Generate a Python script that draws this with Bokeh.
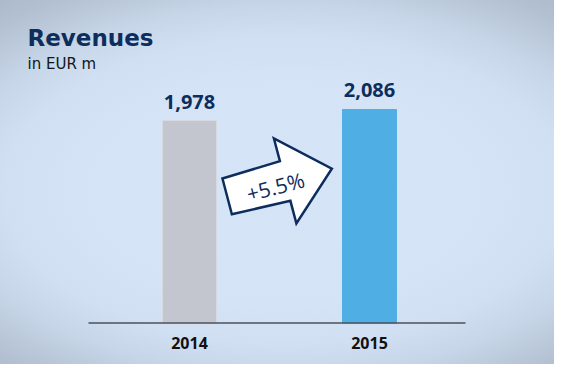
import math
from bokeh.plotting import figure
from bokeh.models import LinearAxis, FixedTicker, ColumnDataSource
from bokeh.core.properties import value
from bokeh.embed import file_html
from bokeh.resources import INLINE

# ---------------- data ----------------
years = ["2014", "2015"]
revenues = [1978, 2086]
value_labels = ["1,978", "2,086"]
bar_colors = ["#c3c6cf", "#4faee3"]
bar_edge_colors = ["#d6d9e0", "#4faee3"]
title_text = "Revenues"
subtitle_text = "in EUR m"
growth_label = "+{:.1f}%".format((revenues[1] / revenues[0] - 1) * 100)

# ---------------- layout (pixels) ----------------
W, H = 554, 364
X0_PX = 189.0      # pixel column of first category
X_PPU = 180.0      # pixels per category step
Y0_PX = 322.5      # pixel row of value 0 (from top)
Y_UPP = 9.77       # value units per pixel

NAVY = "#0d2d5d"


def dx(px):
    return (px - X0_PX) / X_PPU


def dy(py):
    return (Y0_PX - py) * Y_UPP


bg = ("radial-gradient(ellipse 470px 258px at 285px 190px, "
      "#d5e5f7 0%, #d4e4f6 45%, #d0e0f2 60%, #c6d5e7 72%, "
      "#b2c0d1 88%, #a8b6c7 100%)")

p = figure(width=W, height=H, output_backend="svg", toolbar_location=None,
           x_range=(dx(0), dx(W)), y_range=(dy(H), dy(0)),
           x_axis_location=None, y_axis_location=None,
           min_border=0, tools="", styles={"background": bg})
p.background_fill_color = None
p.border_fill_color = None
p.outline_line_color = None
p.grid.visible = False

x_pos = list(range(len(years)))
src = ColumnDataSource(dict(x=x_pos, top=revenues, color=bar_colors,
                            edge=bar_edge_colors, label=value_labels))

# bars
p.vbar(x="x", top="top", bottom=0, width=0.3, fill_color="color",
       line_color="edge", line_width=1, source=src)

# value labels
p.text(x="x", y="top", text="label", source=src, text_align="center",
       text_baseline="middle", y_offset=-19,
       text_font=value("Open Sans"), text_font_style="bold",
       text_font_size="20px", text_color=NAVY)

# baseline
p.segment(x0=[dx(88)], y0=[0], x1=[dx(465)], y1=[0],
          line_color="#4b505a", line_width=1.3)

# category axis
ax = LinearAxis(fixed_location=0, ticker=FixedTicker(ticks=x_pos),
                major_label_overrides={i: y for i, y in zip(x_pos, years)},
                axis_line_color=None, major_tick_line_color=None,
                minor_tick_line_color=None, major_tick_out=0, major_tick_in=0,
                major_label_standoff=14,
                major_label_text_font="Open Sans",
                major_label_text_font_style="bold",
                major_label_text_font_size="16px",
                major_label_text_color="#111111")
p.add_layout(ax, "below")

# title + subtitle
p.text(x=[dx(27)], y=[dy(37)], text=[title_text], text_align="left",
       text_baseline="middle", text_font=value("DejaVu Sans"),
       text_font_style="bold", text_font_size="23px", text_color=NAVY)
p.text(x=[dx(27)], y=[dy(63)], text=[subtitle_text], text_align="left",
       text_baseline="middle", text_font=value("DejaVu Sans"),
       text_font_size="15px", text_color="#151515")

# growth arrow
cx = (X0_PX + X0_PX + X_PPU) / 2.0
cy = 182.0
theta = math.radians(14.8)
L = 108.3
half = L / 2.0
head_base = -half + 60.0
local = [(-half, 18.5), (head_base, 20.5), (head_base, 44.0), (half, 0.0),
         (head_base, -44.0), (head_base, -20.5), (-half, -18.5)]


def to_screen(u, v):
    mx = u * math.cos(theta) - v * math.sin(theta)
    my = u * math.sin(theta) + v * math.cos(theta)
    return cx + mx, cy - my


pts = [to_screen(u, v) for u, v in local]
p.patch(x=[dx(a) for a, b in pts], y=[dy(b) for a, b in pts],
        fill_color="white", line_color=NAVY, line_width=2.5,
        line_join="miter")

tx, ty = to_screen(-5.0, -3.0)
p.text(x=[dx(tx)], y=[dy(ty)], text=[growth_label], angle=theta,
       text_align="center", text_baseline="middle",
       text_font=value("Open Sans"), text_font_size="21px", text_color=NAVY)

open("out.html", "w").write(file_html(p, INLINE))
